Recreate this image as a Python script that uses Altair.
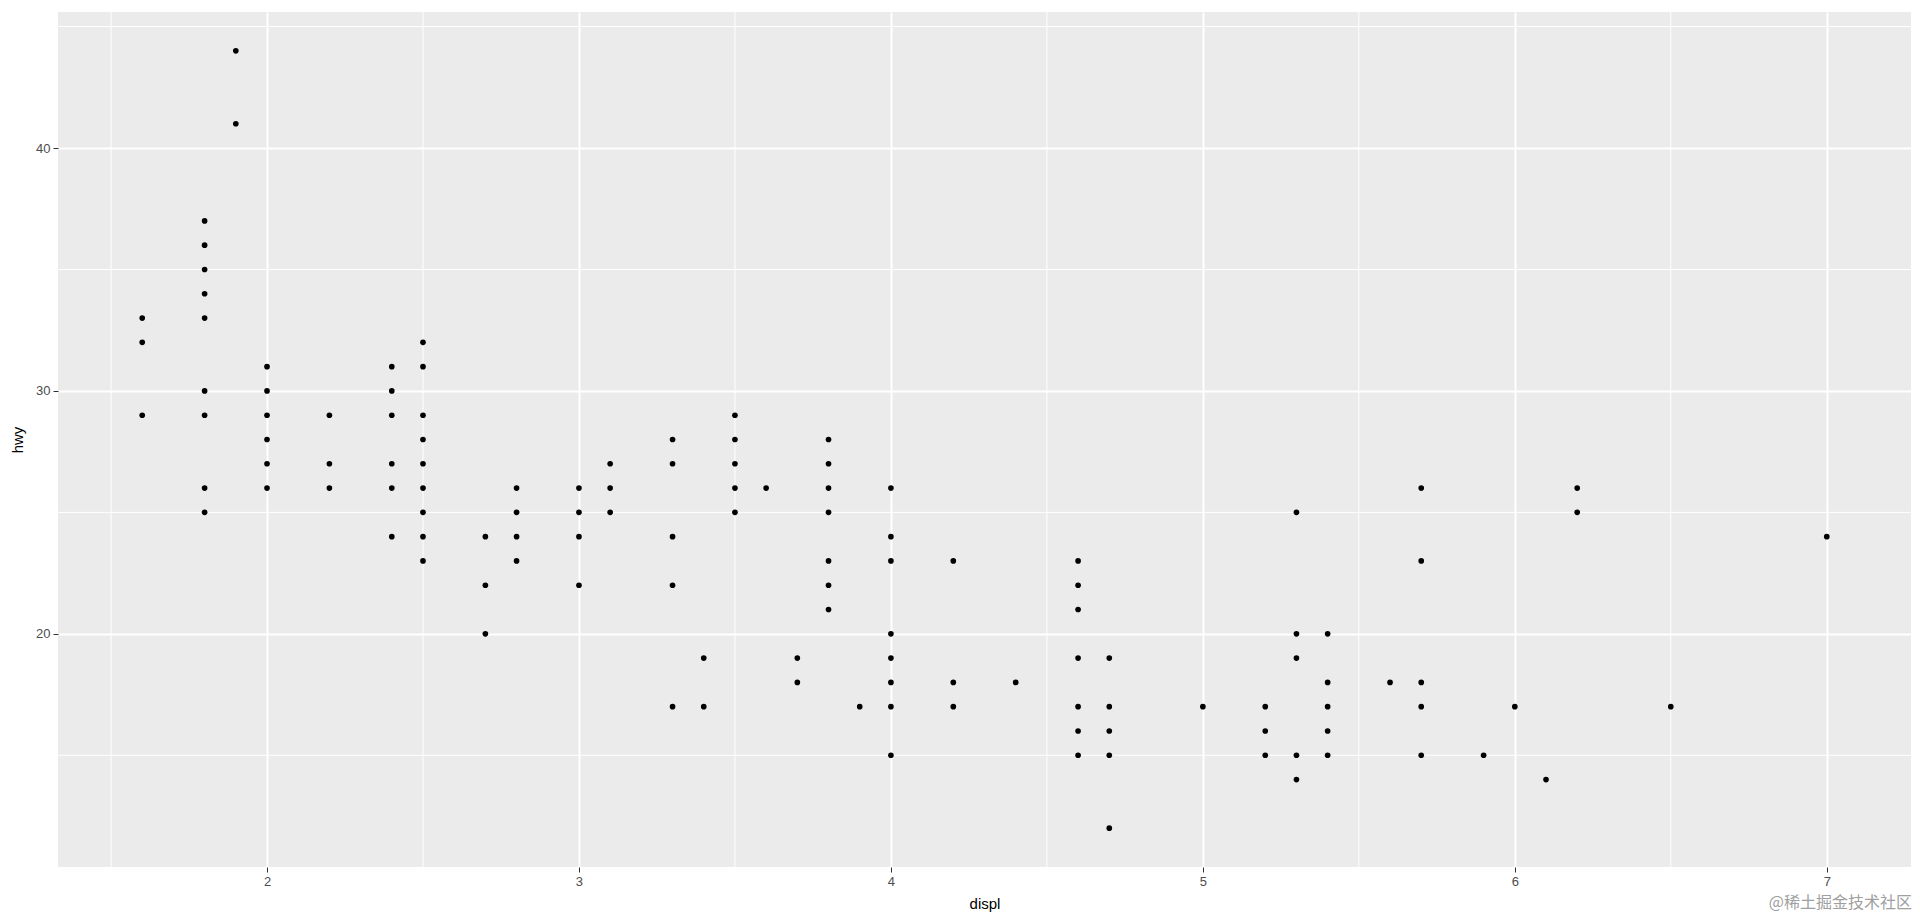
import altair as alt
import pandas as pd

# unique (displ, hwy) points
displ = (
    [1.6] * 3 + [1.8] * 9 + [1.9] * 2 + [2.0] * 6 + [2.2] * 3 + [2.4] * 6 + [2.5] * 9 +
    [2.7] * 3 + [2.8] * 4 + [3.0] * 4 + [3.1] * 3 + [3.3] * 5 + [3.4] * 2 + [3.5] * 5 +
    [3.6] * 1 + [3.7] * 2 + [3.8] * 7 + [3.9] * 1 + [4.0] * 8 + [4.2] * 3 + [4.4] * 1 +
    [4.6] * 7 + [4.7] * 5 + [5.0] * 1 + [5.2] * 3 + [5.3] * 5 + [5.4] * 5 + [5.6] * 1 +
    [5.7] * 5 + [5.9] * 1 + [6.0] * 1 + [6.1] * 1 + [6.2] * 2 + [6.5] * 1 + [7.0] * 1
)
hwy = (
    [33, 32, 29] +
    [37, 36, 35, 34, 33, 30, 29, 26, 25] +
    [44, 41] +
    [31, 30, 29, 28, 27, 26] +
    [29, 27, 26] +
    [31, 30, 29, 27, 26, 24] +
    [32, 31, 29, 28, 27, 26, 25, 24, 23] +
    [24, 22, 20] +
    [26, 25, 24, 23] +
    [26, 25, 24, 22] +
    [27, 26, 25] +
    [28, 27, 24, 22, 17] +
    [19, 17] +
    [29, 28, 27, 26, 25] +
    [26] +
    [19, 18] +
    [28, 27, 26, 25, 23, 22, 21] +
    [17] +
    [26, 24, 23, 20, 19, 18, 17, 15] +
    [23, 18, 17] +
    [18] +
    [23, 22, 21, 19, 17, 16, 15] +
    [19, 17, 16, 15, 12] +
    [17] +
    [17, 16, 15] +
    [25, 20, 19, 15, 14] +
    [20, 18, 17, 16, 15] +
    [18] +
    [26, 23, 18, 17, 15] +
    [15] +
    [17] +
    [14] +
    [26, 25] +
    [17] +
    [24]
)

x_breaks = [2, 3, 4, 5, 6, 7]
y_breaks = [20, 30, 40]
x_minor = [1.5, 2.5, 3.5, 4.5, 5.5, 6.5]
y_minor = [15, 25, 35, 45]
x_domain = [1.33, 7.27]
y_domain = [10.4, 45.6]

pts = pd.DataFrame({"displ": displ, "hwy": hwy})
xm = pd.DataFrame({"v": x_minor})
ym = pd.DataFrame({"v": y_minor})

FONT = "Liberation Sans"
W, H = 1853, 855

xscale = alt.Scale(domain=x_domain, nice=False, zero=False)
yscale = alt.Scale(domain=y_domain, nice=False, zero=False)

xaxis = alt.Axis(
    values=x_breaks, grid=True, gridColor="white", gridWidth=2, domain=False,
    tickColor="#333333", tickSize=5, tickWidth=1, labelColor="#4D4D4D",
    labelFontSize=13, labelFont=FONT, labelPadding=3, title="displ",
    titleFont=FONT, titleFontSize=15, titleFontWeight="normal", titleColor="black",
    titleY=36, titleBaseline="middle",
)
yaxis = alt.Axis(
    values=y_breaks, grid=True, gridColor="white", gridWidth=2, domain=False,
    tickColor="#333333", tickSize=5, tickWidth=1, labelColor="#4D4D4D",
    labelFontSize=13, labelFont=FONT, labelPadding=3, title="hwy",
    titleFont=FONT, titleFontSize=15, titleFontWeight="normal", titleColor="black",
    titleX=-41, titleY=H / 2, titleAngle=-90, titleBaseline="middle", titleAlign="center",
)

points = alt.Chart(pts).mark_circle(color="black", opacity=1, size=32).encode(
    x=alt.X("displ:Q", scale=xscale, axis=xaxis),
    y=alt.Y("hwy:Q", scale=yscale, axis=yaxis),
)
minor_x = alt.Chart(xm).mark_rule(color="white", strokeWidth=1).encode(
    x=alt.X("v:Q", scale=xscale, axis=xaxis)
)
minor_y = alt.Chart(ym).mark_rule(color="white", strokeWidth=1).encode(
    y=alt.Y("v:Q", scale=yscale, axis=yaxis)
)
watermark = alt.Chart(pd.DataFrame({"t": ["@稀土掘金技术社区"]})).mark_text(
    align="right", baseline="middle", fontSize=16, font="Noto Sans CJK SC",
    color="#A0A0A0",
).encode(text="t:N", x=alt.value(W + 1), y=alt.value(H + 36))

chart = alt.layer(minor_x, minor_y, points, watermark).properties(
    width=W, height=H,
    autosize=alt.AutoSizeParams(type="none"),
    padding={"left": 50, "top": 4, "right": 1, "bottom": 46},
).configure_view(fill="#EBEBEB", stroke=None)

chart.save("out.html", embed_options={"renderer": "svg", "actions": False})
